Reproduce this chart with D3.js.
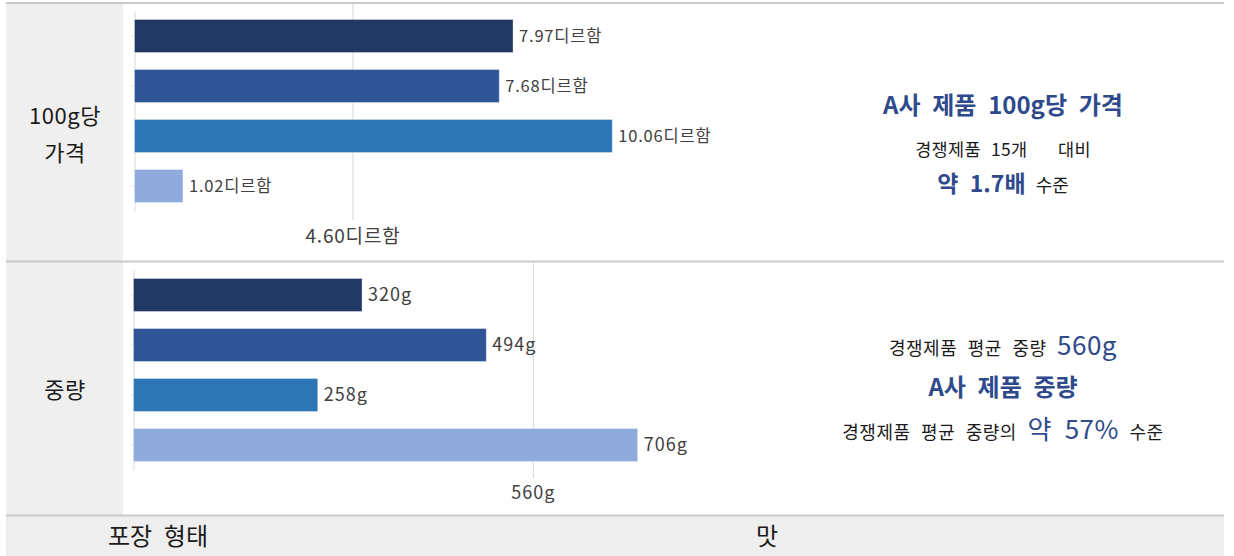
<!DOCTYPE html>
<html lang="ko">
<head>
<meta charset="utf-8">
<script src="https://cdn.jsdelivr.net/npm/d3@7/dist/d3.min.js"></script>
<style>
  html, body { margin: 0; padding: 0; background: #fff; }
  svg { display: block; font-family: "Noto Sans CJK KR", "Noto Sans", sans-serif; }
</style>
</head>
<body>
<svg id="chart" width="1234" height="556"></svg>
<script>
// Products compared (A사 first, then competitor groups)
const products = ["A", "B", "C", "D"];
const barColors = ["#203864", "#2F5597", "#2E75B6", "#8FAADC"];

// Price per 100g (dirham)
const priceValues = [7.97, 7.68, 10.06, 1.02];
const priceLabels = ["7.97디르함", "7.68디르함", "10.06디르함", "1.02디르함"];
const priceRef = 4.60;
const priceRefLabel = "4.60디르함";

// Weight (g)
const weightValues = [320, 494, 258, 706];
const weightLabels = ["320g", "494g", "258g", "706g"];
const weightRef = 560;
const weightRefLabel = "560g";

// Row headers
const rowHeaders = [["100g당", "가격"], ["중량"]];
const footerLabels = ["포장 형태", "맛"];

const svg = d3.select("#chart");
const W = 1234, H = 556;
const left = 6, right = 1224;
const BLUE = "#2E4A8C", INK = "#1a1a1a", LABEL = "#404040", RULE = "#C9C9C9", GRID = "#DCDCDC";

// Backgrounds: header column and footer row
svg.append("rect").attr("x", left).attr("y", 4).attr("width", 117).attr("height", 511).attr("fill", "#EFEFEF");
svg.append("rect").attr("x", left).attr("y", 516).attr("width", right - left).attr("height", H - 516).attr("fill", "#EEEEEE");

// Section rules
[3, 261.5, 515.5].forEach(y => {
  svg.append("line").attr("x1", left).attr("x2", right).attr("y1", y).attr("y2", y)
    .attr("stroke", RULE).attr("stroke-width", 2);
});

function drawBars(cfg) {
  const x = d3.scaleLinear().domain([0, cfg.maxVal]).range([cfg.x0, cfg.x1]);
  const y = d3.scaleBand().domain(d3.range(products.length)).range([cfg.top, cfg.top + 200])
    .paddingInner(0.34).paddingOuter(0.17);
  const g = svg.append("g");

  // reference line
  g.append("line")
    .attr("x1", x(cfg.ref)).attr("x2", x(cfg.ref))
    .attr("y1", cfg.refTop).attr("y2", cfg.refBottom)
    .attr("stroke", GRID).attr("stroke-width", 1.2);

  // category axis (no labels)
  const axis = g.append("g").attr("transform", `translate(${cfg.x0},0)`)
    .call(d3.axisLeft(y).tickSizeInner(3).tickSizeOuter(0).tickFormat(""));
  axis.select(".domain").attr("stroke", "#D9D9D9");
  axis.selectAll(".tick line").attr("stroke", "#E3E3E3");

  g.selectAll("rect.bar").data(cfg.values).join("rect")
    .attr("class", "bar")
    .attr("x", x(0))
    .attr("y", (d, i) => y(i))
    .attr("width", d => x(d) - x(0))
    .attr("height", y.bandwidth())
    .attr("fill", (d, i) => barColors[i])
    .attr("stroke", "rgba(255,255,255,0.35)").attr("stroke-width", 1);

  g.selectAll("text.val").data(cfg.values).join("text")
    .attr("class", "val")
    .attr("x", d => x(d) + 6)
    .attr("y", (d, i) => y(i) + y.bandwidth() / 2)
    .attr("dy", "0.35em")
    .attr("font-size", cfg.valFont)
    .attr("letter-spacing", cfg.valSpacing)
    .attr("fill", LABEL)
    .text((d, i) => cfg.labels[i]);

  g.append("text")
    .attr("x", x(cfg.ref)).attr("y", cfg.refLabelY)
    .attr("text-anchor", "middle").attr("dy", "0.35em")
    .attr("font-size", cfg.refFont).attr("letter-spacing", cfg.valSpacing).attr("fill", LABEL)
    .text(cfg.refLabel);
}

drawBars({ values: priceValues, labels: priceLabels, maxVal: 10.06, x0: 134.5, x1: 612.3, top: 11,
  ref: priceRef, refLabel: priceRefLabel, refTop: 4, refBottom: 220, refLabelY: 236, refFont: 19,
  valFont: 16.5, valSpacing: 0.8 });
drawBars({ values: weightValues, labels: weightLabels, maxVal: 706, x0: 133.5, x1: 637.7, top: 270,
  ref: weightRef, refLabel: weightRefLabel, refTop: 262, refBottom: 478, refLabelY: 493, refFont: 18,
  valFont: 18, valSpacing: 1 });

// Row headers
svg.append("text").attr("text-anchor", "middle").attr("font-size", 22).attr("fill", INK)
  .attr("letter-spacing", 0.5)
  .selectAll("tspan").data(rowHeaders[0]).join("tspan")
  .attr("x", 65).attr("y", (d, i) => 116 + i * 37).attr("dy", "0.35em").text(d => d);
svg.append("text").attr("x", 65).attr("y", 390).attr("dy", "0.35em").attr("text-anchor", "middle")
  .attr("font-size", 22).attr("letter-spacing", 0.5).attr("fill", INK).text(rowHeaders[1][0]);

// Footer labels
svg.append("text").attr("x", 158).attr("y", 537).attr("dy", "0.35em").attr("text-anchor", "middle")
  .attr("font-size", 24).attr("fill", INK).attr("word-spacing", 5).text(footerLabels[0]);
svg.append("text").attr("x", 767).attr("y", 537).attr("dy", "0.35em").attr("text-anchor", "middle")
  .attr("font-size", 24).attr("fill", INK).text(footerLabels[1]);

// Summary notes on the right
function note(y, parts) {
  const t = svg.append("text").attr("x", 1003).attr("y", y).attr("dy", "0.35em")
    .attr("text-anchor", "middle").attr("word-spacing", 5);
  parts.forEach(p => {
    t.append("tspan").attr("font-size", p.size).attr("font-weight", p.bold ? 700 : 400)
      .attr("letter-spacing", p.ls || 0)
      .attr("fill", p.blue ? BLUE : INK).text(p.t);
  });
}
note(108, [{ t: "A사 제품 100g당 가격", size: 24, bold: true, blue: true }]);
note(150, [{ t: "경쟁제품 15개\u00a0\u00a0 대비", size: 17.5, ls: 0.3 }]);
note(186, [{ t: "약 1.7배", size: 23, bold: true, blue: true }, { t: " 수준", size: 18 }]);

note(349, [{ t: "경쟁제품 평균 중량 ", size: 18, ls: 0.5 }, { t: "560g", size: 26, blue: true, ls: 0.5 }]);
note(390, [{ t: "A사 제품 중량", size: 24, bold: true, blue: true }]);
note(433, [{ t: "경쟁제품 평균 중량의 ", size: 18, ls: 0.5 }, { t: "약 57%", size: 26, blue: true, ls: 0.5 }, { t: " 수준", size: 18, ls: 0.5 }]);
</script>
</body>
</html>
